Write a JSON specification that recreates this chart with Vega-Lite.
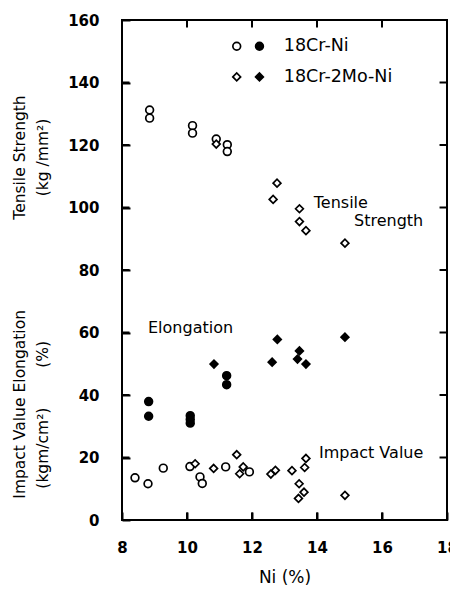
{
  "$schema": "https://vega.github.io/schema/vega-lite/v6.json",
  "width": 325,
  "height": 500,
  "autosize": {"type": "none"},
  "padding": {"left": 122, "top": 20, "right": 3, "bottom": 70},
  "background": "white",
  "data": {"values": [{}]},
  "config": {
    "font": "DejaVu Sans",
    "view": {"stroke": "black", "strokeWidth": 2},
    "axis": {"grid": false, "domain": false, "labelColor": "black", "titleColor": "black", "labelFont": "DejaVu Sans", "titleFont": "DejaVu Sans"}
  },
  "datasets": {
    "xticks": [{"ni": 10}, {"ni": 12}, {"ni": 14}, {"ni": 16}],
    "yticks": [{"value": 20}, {"value": 40}, {"value": 60}, {"value": 80}, {"value": 100}, {"value": 120}, {"value": 140}],
    "points": [
      {"ni": 8.85, "value": 131.2, "property": "Tensile Strength", "alloy": "18Cr-Ni"},
      {"ni": 8.85, "value": 128.6, "property": "Tensile Strength", "alloy": "18Cr-Ni"},
      {"ni": 10.17, "value": 126.2, "property": "Tensile Strength", "alloy": "18Cr-Ni"},
      {"ni": 10.17, "value": 123.8, "property": "Tensile Strength", "alloy": "18Cr-Ni"},
      {"ni": 10.9, "value": 121.9, "property": "Tensile Strength", "alloy": "18Cr-Ni"},
      {"ni": 11.24, "value": 120.1, "property": "Tensile Strength", "alloy": "18Cr-Ni"},
      {"ni": 11.24, "value": 117.9, "property": "Tensile Strength", "alloy": "18Cr-Ni"},
      {"ni": 10.9, "value": 120.3, "property": "Tensile Strength", "alloy": "18Cr-2Mo-Ni"},
      {"ni": 12.77, "value": 107.8, "property": "Tensile Strength", "alloy": "18Cr-2Mo-Ni"},
      {"ni": 12.65, "value": 102.6, "property": "Tensile Strength", "alloy": "18Cr-2Mo-Ni"},
      {"ni": 13.46, "value": 99.6, "property": "Tensile Strength", "alloy": "18Cr-2Mo-Ni"},
      {"ni": 13.46, "value": 95.5, "property": "Tensile Strength", "alloy": "18Cr-2Mo-Ni"},
      {"ni": 13.66, "value": 92.6, "property": "Tensile Strength", "alloy": "18Cr-2Mo-Ni"},
      {"ni": 14.86, "value": 88.6, "property": "Tensile Strength", "alloy": "18Cr-2Mo-Ni"},
      {"ni": 8.82, "value": 37.9, "property": "Elongation", "alloy": "18Cr-Ni"},
      {"ni": 8.82, "value": 33.2, "property": "Elongation", "alloy": "18Cr-Ni"},
      {"ni": 10.1, "value": 33.4, "property": "Elongation", "alloy": "18Cr-Ni"},
      {"ni": 10.1, "value": 32.2, "property": "Elongation", "alloy": "18Cr-Ni"},
      {"ni": 10.1, "value": 31.0, "property": "Elongation", "alloy": "18Cr-Ni"},
      {"ni": 11.22, "value": 46.2, "property": "Elongation", "alloy": "18Cr-Ni"},
      {"ni": 11.22, "value": 43.3, "property": "Elongation", "alloy": "18Cr-Ni"},
      {"ni": 10.83, "value": 49.9, "property": "Elongation", "alloy": "18Cr-2Mo-Ni"},
      {"ni": 12.78, "value": 57.8, "property": "Elongation", "alloy": "18Cr-2Mo-Ni"},
      {"ni": 12.62, "value": 50.5, "property": "Elongation", "alloy": "18Cr-2Mo-Ni"},
      {"ni": 13.46, "value": 54.1, "property": "Elongation", "alloy": "18Cr-2Mo-Ni"},
      {"ni": 13.4, "value": 51.5, "property": "Elongation", "alloy": "18Cr-2Mo-Ni"},
      {"ni": 13.66, "value": 49.9, "property": "Elongation", "alloy": "18Cr-2Mo-Ni"},
      {"ni": 14.86, "value": 58.5, "property": "Elongation", "alloy": "18Cr-2Mo-Ni"},
      {"ni": 8.4, "value": 13.5, "property": "Impact Value", "alloy": "18Cr-Ni"},
      {"ni": 8.8, "value": 11.6, "property": "Impact Value", "alloy": "18Cr-Ni"},
      {"ni": 9.27, "value": 16.6, "property": "Impact Value", "alloy": "18Cr-Ni"},
      {"ni": 10.09, "value": 17.1, "property": "Impact Value", "alloy": "18Cr-Ni"},
      {"ni": 10.4, "value": 13.8, "property": "Impact Value", "alloy": "18Cr-Ni"},
      {"ni": 10.47, "value": 11.7, "property": "Impact Value", "alloy": "18Cr-Ni"},
      {"ni": 11.19, "value": 17.0, "property": "Impact Value", "alloy": "18Cr-Ni"},
      {"ni": 11.92, "value": 15.4, "property": "Impact Value", "alloy": "18Cr-Ni"},
      {"ni": 10.25, "value": 18.0, "property": "Impact Value", "alloy": "18Cr-2Mo-Ni"},
      {"ni": 10.82, "value": 16.5, "property": "Impact Value", "alloy": "18Cr-2Mo-Ni"},
      {"ni": 11.53, "value": 20.9, "property": "Impact Value", "alloy": "18Cr-2Mo-Ni"},
      {"ni": 11.62, "value": 14.8, "property": "Impact Value", "alloy": "18Cr-2Mo-Ni"},
      {"ni": 11.73, "value": 17.0, "property": "Impact Value", "alloy": "18Cr-2Mo-Ni"},
      {"ni": 12.58, "value": 14.7, "property": "Impact Value", "alloy": "18Cr-2Mo-Ni"},
      {"ni": 12.72, "value": 15.9, "property": "Impact Value", "alloy": "18Cr-2Mo-Ni"},
      {"ni": 13.23, "value": 15.8, "property": "Impact Value", "alloy": "18Cr-2Mo-Ni"},
      {"ni": 13.66, "value": 19.7, "property": "Impact Value", "alloy": "18Cr-2Mo-Ni"},
      {"ni": 13.62, "value": 16.8, "property": "Impact Value", "alloy": "18Cr-2Mo-Ni"},
      {"ni": 13.45, "value": 11.6, "property": "Impact Value", "alloy": "18Cr-2Mo-Ni"},
      {"ni": 13.6, "value": 8.9, "property": "Impact Value", "alloy": "18Cr-2Mo-Ni"},
      {"ni": 13.43, "value": 6.9, "property": "Impact Value", "alloy": "18Cr-2Mo-Ni"},
      {"ni": 14.86, "value": 7.9, "property": "Impact Value", "alloy": "18Cr-2Mo-Ni"}
    ]
  },
  "layer": [
    {
      "data": {"name": "points"},
      "mark": {"type": "point", "filled": true, "stroke": "black", "strokeWidth": 1.7, "size": 60, "opacity": 1},
      "encoding": {
        "x": {"field": "ni", "type": "quantitative", "scale": {"domain": [8, 18], "nice": false, "zero": false},
          "axis": {"orient": "bottom", "values": [8, 10, 12, 14, 16, 18], "title": "Ni (%)", "ticks": true, "tickSize": 8, "tickWidth": 2, "tickColor": "#000000", "tickOpacity": 1, "offset": -8, "zindex": 2, "labelFontSize": 15, "labelFontWeight": "bold", "labelPadding": 20, "labelFlush": false, "titleFontSize": 17, "titlePadding": 14, "titleFontWeight": "normal"}},
        "y": {"field": "value", "type": "quantitative", "scale": {"domain": [0, 160], "nice": false, "zero": true},
          "axis": {"orient": "left", "values": [0, 20, 40, 60, 80, 100, 120, 140, 160], "title": null, "ticks": true, "tickSize": 8, "tickWidth": 2, "tickColor": "#000000", "tickOpacity": 1, "offset": -8, "zindex": 2, "labelFontSize": 15, "labelFontWeight": "bold", "labelPadding": 23, "labelFlush": false}},
        "shape": {"field": "alloy", "type": "nominal", "scale": {"domain": ["18Cr-Ni", "18Cr-2Mo-Ni"], "range": ["circle", "diamond"]}, "legend": null},
        "fill": {"field": "property", "type": "nominal", "scale": {"domain": ["Tensile Strength", "Elongation", "Impact Value"], "range": ["white", "black", "white"]}, "legend": null}
      }
    },
    {
      "data": {"name": "xticks"},
      "mark": {"type": "rule", "color": "black", "strokeWidth": 2},
      "encoding": {"x": {"field": "ni", "type": "quantitative", "axis": null}, "y": {"datum": 0, "type": "quantitative", "axis": null}, "y2": {"datum": 2.4}}
    },
    {
      "data": {"name": "xticks"},
      "mark": {"type": "rule", "color": "black", "strokeWidth": 2},
      "encoding": {"x": {"field": "ni", "type": "quantitative", "axis": null}, "y": {"datum": 160, "type": "quantitative", "axis": null}, "y2": {"datum": 157.6}}
    },
    {
      "data": {"name": "yticks"},
      "mark": {"type": "rule", "color": "black", "strokeWidth": 2},
      "encoding": {"y": {"field": "value", "type": "quantitative", "axis": null}, "x": {"datum": 8, "type": "quantitative", "axis": null}, "x2": {"datum": 8.23}}
    },
    {
      "data": {"name": "yticks"},
      "mark": {"type": "rule", "color": "black", "strokeWidth": 2},
      "encoding": {"y": {"field": "value", "type": "quantitative", "axis": null}, "x": {"datum": 18, "type": "quantitative", "axis": null}, "x2": {"datum": 17.77}}
    },
    {
      "mark": {"type": "point", "shape": "circle", "filled": true, "fill": "white", "stroke": "black", "strokeWidth": 1.7, "size": 60, "opacity": 1},
      "encoding": {"x": {"datum": 11.53, "type": "quantitative", "axis": null}, "y": {"datum": 151.6, "type": "quantitative", "axis": null}}
    },
    {
      "mark": {"type": "point", "shape": "circle", "filled": true, "fill": "black", "stroke": "black", "strokeWidth": 1.7, "size": 60, "opacity": 1},
      "encoding": {"x": {"datum": 12.23, "type": "quantitative", "axis": null}, "y": {"datum": 151.6, "type": "quantitative", "axis": null}}
    },
    {
      "mark": {"type": "point", "shape": "diamond", "filled": true, "fill": "white", "stroke": "black", "strokeWidth": 1.7, "size": 60, "opacity": 1},
      "encoding": {"x": {"datum": 11.53, "type": "quantitative", "axis": null}, "y": {"datum": 141.8, "type": "quantitative", "axis": null}}
    },
    {
      "mark": {"type": "point", "shape": "diamond", "filled": true, "fill": "black", "stroke": "black", "strokeWidth": 1.7, "size": 60, "opacity": 1},
      "encoding": {"x": {"datum": 12.23, "type": "quantitative", "axis": null}, "y": {"datum": 141.8, "type": "quantitative", "axis": null}}
    },
    {
      "mark": {"type": "text", "text": "18Cr-Ni", "align": "left", "baseline": "middle", "fontSize": 17.5, "color": "black"},
      "encoding": {"x": {"datum": 12.98, "type": "quantitative", "axis": null}, "y": {"datum": 151.6, "type": "quantitative", "axis": null}}
    },
    {
      "mark": {"type": "text", "text": "18Cr-2Mo-Ni", "align": "left", "baseline": "middle", "fontSize": 17.5, "color": "black"},
      "encoding": {"x": {"datum": 12.98, "type": "quantitative", "axis": null}, "y": {"datum": 141.8, "type": "quantitative", "axis": null}}
    },
    {
      "mark": {"type": "text", "text": "Tensile", "align": "left", "baseline": "middle", "fontSize": 16, "color": "black"},
      "encoding": {"x": {"datum": 13.9, "type": "quantitative", "axis": null}, "y": {"datum": 101.5, "type": "quantitative", "axis": null}}
    },
    {
      "mark": {"type": "text", "text": "Strength", "align": "left", "baseline": "middle", "fontSize": 16, "color": "black"},
      "encoding": {"x": {"datum": 15.14, "type": "quantitative", "axis": null}, "y": {"datum": 95.8, "type": "quantitative", "axis": null}}
    },
    {
      "mark": {"type": "text", "text": "Elongation", "align": "left", "baseline": "middle", "fontSize": 16, "color": "black"},
      "encoding": {"x": {"datum": 8.8, "type": "quantitative", "axis": null}, "y": {"datum": 61.5, "type": "quantitative", "axis": null}}
    },
    {
      "mark": {"type": "text", "text": "Impact Value", "align": "left", "baseline": "middle", "fontSize": 16, "color": "black"},
      "encoding": {"x": {"datum": 14.06, "type": "quantitative", "axis": null}, "y": {"datum": 21.3, "type": "quantitative", "axis": null}}
    },
    {
      "mark": {"type": "text", "text": "Tensile Strength", "angle": 270, "align": "center", "baseline": "middle", "fontSize": 15.5, "color": "black"},
      "encoding": {"x": {"datum": 4.86, "type": "quantitative", "axis": null}, "y": {"datum": 116, "type": "quantitative", "axis": null}}
    },
    {
      "mark": {"type": "text", "text": "(kg /mm²)", "angle": 270, "align": "center", "baseline": "middle", "fontSize": 15.5, "color": "black"},
      "encoding": {"x": {"datum": 5.57, "type": "quantitative", "axis": null}, "y": {"datum": 116, "type": "quantitative", "axis": null}}
    },
    {
      "mark": {"type": "text", "text": "Elongation", "angle": 270, "align": "center", "baseline": "middle", "fontSize": 15.5, "color": "black"},
      "encoding": {"x": {"datum": 4.86, "type": "quantitative", "axis": null}, "y": {"datum": 54, "type": "quantitative", "axis": null}}
    },
    {
      "mark": {"type": "text", "text": "(%)", "angle": 270, "align": "center", "baseline": "middle", "fontSize": 15.5, "color": "black"},
      "encoding": {"x": {"datum": 5.57, "type": "quantitative", "axis": null}, "y": {"datum": 53, "type": "quantitative", "axis": null}}
    },
    {
      "mark": {"type": "text", "text": "Impact Value", "angle": 270, "align": "center", "baseline": "middle", "fontSize": 15.5, "color": "black"},
      "encoding": {"x": {"datum": 4.86, "type": "quantitative", "axis": null}, "y": {"datum": 23, "type": "quantitative", "axis": null}}
    },
    {
      "mark": {"type": "text", "text": "(kgm/cm²)", "angle": 270, "align": "center", "baseline": "middle", "fontSize": 15.5, "color": "black"},
      "encoding": {"x": {"datum": 5.57, "type": "quantitative", "axis": null}, "y": {"datum": 23, "type": "quantitative", "axis": null}}
    }
  ],
  "resolve": {"axis": {"x": "independent", "y": "independent"}}
}
